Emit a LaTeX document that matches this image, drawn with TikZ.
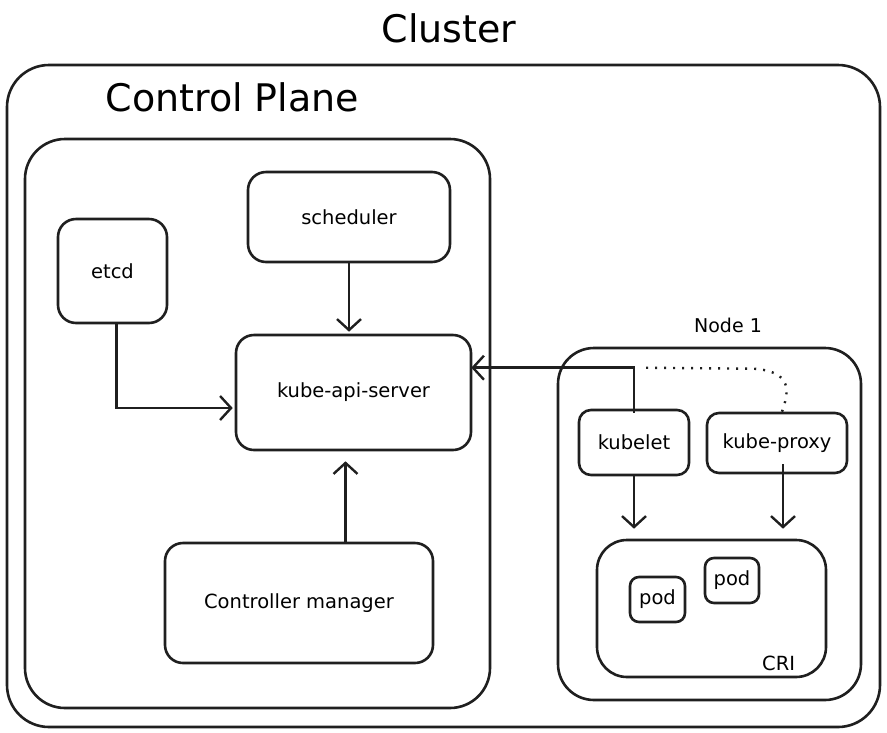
\documentclass[tikz,border=0pt]{standalone}
\usepackage{fontspec}
\setmainfont{DejaVu Sans}
\usetikzlibrary{arrows.meta,calc}
\begin{document}
\begin{tikzpicture}[x=1pt,y=-1pt,
  box/.style={draw=black!88,line width=2.6pt,rounded corners=#1,inner sep=0pt},
  box/.default=18pt,
  lbl/.style={font=\fontsize{19.5}{23}\selectfont},
  arr/.style={draw=black!88,line width=2.6pt,-{Straight Barb[length=11pt,width=24pt,line width=2.4pt]}}]
\useasboundingbox (0,0) rectangle (887,732);
\node (title) at (449,28) {\fontsize{38}{44}\selectfont Cluster};
\node[box=42pt,minimum width=873pt,minimum height=662pt] (cluster) at (443.5,396) {};
\node[anchor=west] (cplbl) at (102,97) {\fontsize{38}{44}\selectfont Control Plane};
\node[box=40pt,minimum width=465pt,minimum height=569pt] (cp) at (257.5,423.5) {};
\node[box,lbl,minimum width=202pt,minimum height=90pt] (sched) at (349,217) {scheduler};
\node[box,lbl,minimum width=109pt,minimum height=104pt] (etcd) at (112.5,271) {etcd};
\node[box,lbl,minimum width=235pt,minimum height=115pt] (api) at (353.5,392.5) {kube-api-server};
\node[box,lbl,minimum width=268pt,minimum height=120pt] (ctrl) at (299,603) {Controller manager};
\node (n1lbl) at (728,325) {\fontsize{19}{22}\selectfont Node 1};
\node[box=36pt,minimum width=303pt,minimum height=352pt] (node1) at (709.5,524) {};
\node[box=12pt,lbl,minimum width=110pt,minimum height=65pt] (kubelet) at (634,442.5) {kubelet};
\node[box=12pt,lbl,minimum width=140pt,minimum height=60pt] (proxy) at (777,443) {kube-proxy};
\node[box=30pt,minimum width=229pt,minimum height=137pt] (cri) at (711.5,608.5) {};
\node[anchor=south east,lbl,inner sep=0pt] (crilbl) at ($(cri.south east)+(-32,-7)$) {CRI};
\node[box=9pt,lbl,minimum width=55pt,minimum height=45pt] (pod1) at (657.5,599.5) {pod};
\node[box=9pt,lbl,minimum width=54pt,minimum height=45pt] (pod2) at (732,580.5) {pod};
% connectors
\draw[arr,shorten >=2pt] (sched.south) -- (sched.south |- api.north);
\draw[arr,shorten >=2pt] ([xshift=4pt]etcd.south) |- ($(api.west)+(0,15.5)$);
\draw[arr,shorten >=10pt] ([xshift=-8pt]api.south |- ctrl.north) -- ([xshift=-8pt]api.south);
\coordinate (kbend) at ($(kubelet.north)+(0,-41)$);
\draw[arr,shorten >=-1pt] ([yshift=-4pt]kubelet.north) -- (kbend) -- (kbend -| api.east);
\draw[draw=black!88,line width=2.4pt,dash pattern=on 2pt off 7pt] ([xshift=5pt]proxy.north) .. controls ($(proxy.north)+(12,-20)$) and ($(proxy.north)+(16,-40)$) .. ($(kbend)+(120,1)$) -- ($(kbend)+(6,0)$);
\draw[arr,shorten >=10pt] (kubelet.south) -- (kubelet.south |- cri.north);
\draw[arr,shorten >=10pt] ([xshift=6pt,yshift=10pt]proxy.south) -- ([xshift=6pt]proxy.south |- cri.north);
\end{tikzpicture}
\end{document}
